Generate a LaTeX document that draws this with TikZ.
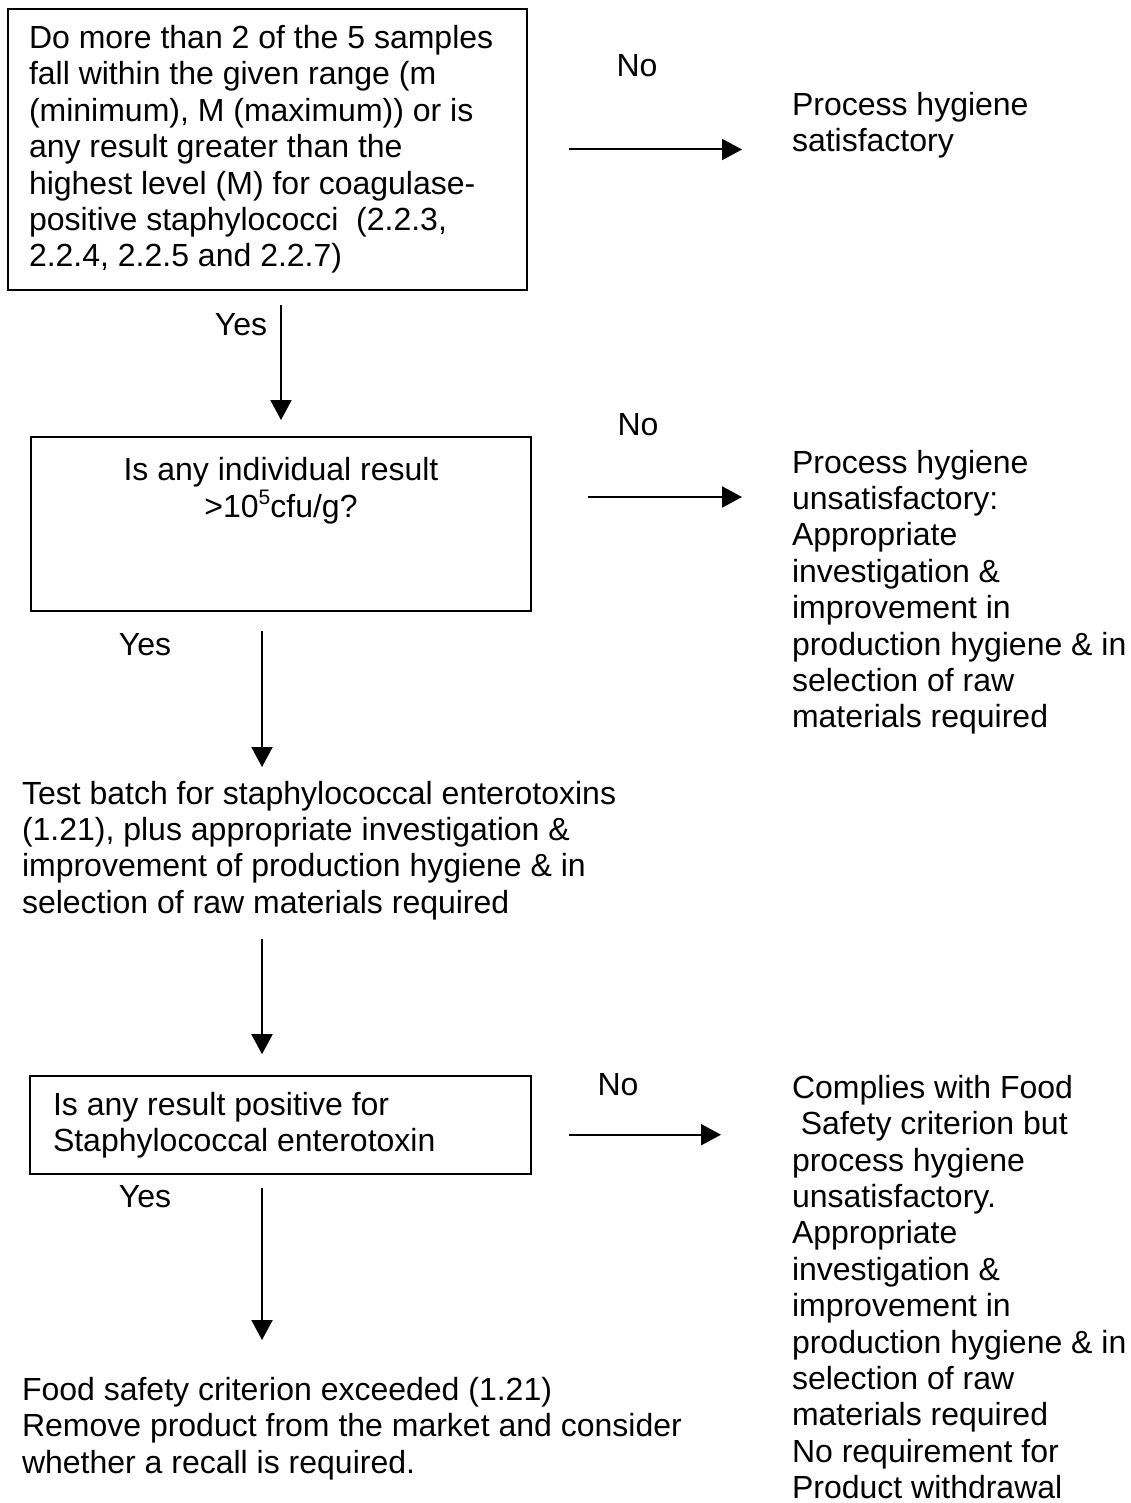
\documentclass[tikz,border=0pt]{standalone}
\usepackage{fontspec}
\setmainfont{Liberation Sans}
\usetikzlibrary{arrows.meta}

\begin{document}
\begin{tikzpicture}[x=1pt,y=-1pt,->,>={Triangle[length=20pt,width=21pt]},line width=2pt,
	font=\fontsize{32}{36.4}\selectfont,
	main node/.style={draw,rectangle,inner ysep=0pt},
	text node/.style={inner sep=0pt,align=left,anchor=north west}]
	
	\useasboundingbox (0,0) rectangle (1131,1503);
	
	\node[main node] (q1) at (267.5,149.5) [text width=477pt,inner xsep=21pt,align=flush left,minimum height=281pt] {Do more than 2 of the 5 samples\\ fall within the given range (m\\ (minimum), M (maximum)) or is\\ any result greater than the\\ highest level (M) for coagulase-\\ positive staphylococci\ \ (2.2.3,\\ 2.2.4, 2.2.5 and 2.2.7)};
	\node[main node] (q2) at (281,524) [align=center,minimum width=500pt,minimum height=174pt] {Is any individual result\\ >10\raisebox{12.5pt}{\fontsize{21}{21}\selectfont 5}cfu/g?\\ \mbox{}\\ \mbox{}};
	\node[main node] (q3) at (280.5,1125.2) [text width=455pt,inner xsep=23pt,align=flush left,minimum height=98pt] {Is any result positive for\\ Staphylococcal enterotoxin};
	
	\node[text node] (r1) at (791,91) {Process hygiene\\ satisfactory};
	\node[text node] (r2) at (791,449) {Process hygiene\\ unsatisfactory:\\ Appropriate\\ investigation \&\\ improvement in\\ production hygiene \& in\\ selection of raw\\ materials required};
	\node[text node] (t1) at (21,780) {Test batch for staphylococcal enterotoxins\\ (1.21), plus appropriate investigation \&\\ improvement of production hygiene \& in\\ selection of raw materials required};
	\node[text node] (r3) at (791,1074) {Complies with Food\\ \mbox{}\ Safety criterion but\\ process hygiene\\ unsatisfactory.\\ Appropriate\\ investigation \&\\ improvement in\\ production hygiene \& in\\ selection of raw\\ materials required\\ No requirement for\\ Product withdrawal};
	\node[text node] (t2) at (21,1376) {Food safety criterion exceeded (1.21)\\ Remove product from the market and consider\\ whether a recall is required.};
	
	\node[anchor=base] (no1) at (637,77) {No};
	\node[anchor=base] (no2) at (638,435) {No};
	\node[anchor=base] (no3) at (618,1095) {No};
	\node[anchor=base] (yes1) at (241,335) {Yes};
	\node[anchor=base] (yes2) at (145,655) {Yes};
	\node[anchor=base] (yes3) at (145,1207) {Yes};
	
	\path
	(q1.east) edge[shorten <=41pt,shorten >=49pt] (q1.east -| r1.west)
	(q1.south -| q2.north) edge[shorten <=14pt,shorten >=16pt] (q2.north)
	([yshift=27pt]q2.east) edge[shorten <=56pt,shorten >=49pt] ([yshift=27pt]q2.east -| r2.west)
	([xshift=-19pt]q2.south) edge[shorten <=19pt,shorten >=13pt] ([xshift=-19pt]q2.south |- t1.north)
	([xshift=-18.5pt]q3.north |- t1.south) edge[shorten <=17.5pt,shorten >=21pt] ([xshift=-18.5pt]q3.north)
	([yshift=-9.5pt]q3.east) edge[shorten <=37pt,shorten >=70pt] ([yshift=-9.5pt]q3.east -| r3.west)
	([xshift=-18.5pt]q3.south) edge[shorten <=12.5pt,shorten >=36pt] ([xshift=-18.5pt]q3.south |- t2.north)
	;
\end{tikzpicture}
\end{document}
